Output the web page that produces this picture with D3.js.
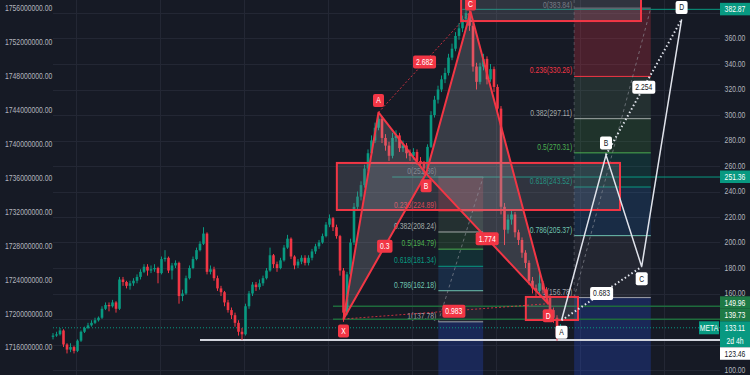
<!DOCTYPE html>
<html><head><meta charset="utf-8">
<script src="https://cdn.jsdelivr.net/npm/d3@7/dist/d3.min.js"></script>
<style>
html,body{margin:0;padding:0;background:#161a25;overflow:hidden}
svg{display:block;font-family:"Liberation Sans",Arial,sans-serif}
</style></head><body>
<svg id="chart" width="750" height="375"></svg>
<script>
// candle series (price on right axis), open of each bar = previous close
const firstOpen = 126
const closes = [127,128,131,120,116,118,115,123,130,133,
  135,137,139,141,148,151,150,153,148,171,
  169,166,168,170,173,177,181,178,179,180,
  176,187,188,178,182,184,158,160,172,180,
  187,194,199,207,177,179,172,164,161,153,
  147,143,137,130,128,150,160,167,165,168,
  172,178,190,183,180,186,196,203,189,182,
  185,188,184,188,193,197,200,205,214,219,
  212,205,178,145,175,200,228,236,245,258,
  270,280,290,297,282,276,268,282,284,274,
  276,270,268,271,264,262,258,275,300,312,
  320,328,333,345,352,362,368,375,380,370,
  338,326,338,344,328,336,322,305,228,210,
  218,222,208,202,192,184,170,164,162,168,
  163,157,147,141,127,133.11]
const highs = [129,130,133,132,121,121,119,124,131,134,
  137,139,141,142,150,153,153,155,154,173,
  173,170,170,172,175,179,183,183,182,183,
  181,189,194,189,184,186,185,163,174,182,
  189,196,201,212,208,182,181,174,166,162,
  155,149,145,139,133,152,162,169,169,171,
  174,180,196,191,185,188,198,206,204,190,
  187,190,190,190,195,199,202,207,216,222,
  220,214,206,180,177,203,231,240,248,261,
  273,284,294,302,299,285,279,286,288,286,
  280,278,273,274,273,267,264,277,303,315,
  323,331,337,348,356,365,372,378,383.84,382,
  372,341,341,348,346,340,338,324,307,231,
  222,226,224,210,204,194,186,173,167,176,
  170,165,159,149,143,136]
const lows = [124,126,127,118,113,114,113,114,122,129,
  132,134,136,138,140,147,146,149,145,147,
  166,164,163,166,168,171,176,174,176,177,
  168,175,185,176,171,180,152,154,159,171,
  179,186,193,198,175,175,170,162,158,150,
  145,140,134,127,123.46,127,148,158,162,163,
  166,171,177,180,177,179,185,195,187,179,
  180,183,182,182,186,191,195,199,204,212,
  209,203,174,137.78,143,173,198,225,233,243,
  256,267,278,288,278,272,264,266,279,271,
  271,266,264,265,261,259,253,256,274,298,
  309,318,325,331,343,350,359,365,372,366,
  334,320,324,335,324,326,318,300,222,198,
  207,214,204,198,188,180,167,160,158,160,
  160,153,144,137,123,125]

// axes
const priceTicks = [100,120,140,160,180,200,220,240,260,280,300,320,340,360,380]
const priceTickLabels = [100,160,180,200,220,240,260,280,300,320,340,360]
const leftTicks = [1716e6,1720e6,1724e6,1728e6,1732e6,1736e6,1740e6,1744e6,1748e6,1752e6,1756e6]
const timeGridBars = [6.6,30.6,54.6,78.6,102.6,126.6,150.6,174.6]

// XABCD harmonic pattern (red)
const patternNames = ['X','A','B','C','D']
const patternBars = [83,93,106.6,119.3,141.5]
const patternPrices = [140,302,254,381,152]
const patternRatios = [['X','B','0.3'],['A','C','2.682'],['B','D','1.774'],['X','D','0.983']]

// projected ABCD (white)
const projNames = ['A','B','C','D']
const projBars = [145.3,158,168.2,179.6]
const projPrices = [139,268.6,181,375]
const projRatios = [['A','C','0.683'],['B','D','2.254']]

// zones [bar from, bar to, price top, price bottom]
const zones = [[81.1,162,262.4,225.5],[116.6,168,392,373.7],[135.1,150,157.3,139.2]]

// fib retracements
const fibLevels = [0,0.236,0.382,0.5,0.618,0.786,1]
const fib1Prices = [251.36,224.89,208.24,194.79,181.34,162.18,137.78]
const fib1Bars = [110.1,122.9]
const fib2Prices = [383.84,330.26,297.11,270.31,243.52,205.37,156.78]
const fib2Bars = [148.9,170.8]

// horizontal price lines [price, start bar]
const hLinePrices = [382.87,251.36,149.96,139.73,133.11,123.46]
const hLineStarts = [116.9,96.9,80,80,0,42]
const lastPrice = 133.11

const W = 750, H = 375
const svg = d3.select('#chart')
const x = d3.scaleLinear().domain([0,190]).range([53,718])
const y = d3.scaleLinear().domain([100,380]).range([370,13])
const yLeft = d3.scaleLinear().domain([1716e6,1756e6]).range([347.5,8.3])
const plotRight = 720
const K = 0.8

function squeeze(t){
  const w = t.node().getComputedTextLength()
  t.attr('textLength', w*K).attr('lengthAdjust','spacingAndGlyphs')
  return w*K
}
function tag(g, cx, cy, text, fill, color, minW){
  const grp = g.append('g')
  const r = grp.append('rect')
  const t = grp.append('text').attr('x',cx).attr('y',cy).attr('dy','0.35em')
    .attr('text-anchor','middle').attr('fill',color).attr('font-size',8.5).text(text)
  const w = Math.max(minW||10, squeeze(t)+6)
  r.attr('x',cx-w/2).attr('y',cy-6.5).attr('width',w).attr('height',13).attr('rx',2).attr('fill',fill)
}

svg.append('rect').attr('width',W).attr('height',H).attr('fill','#161a25')

// grid
const grid = svg.append('g').attr('stroke','#232734').attr('stroke-width',1)
grid.selectAll('line.h').data(priceTicks).join('line')
  .attr('x1',53).attr('x2',plotRight).attr('y1',d=>Math.round(y(d))+0.5).attr('y2',d=>Math.round(y(d))+0.5)
grid.selectAll('line.v').data(timeGridBars).join('line')
  .attr('x1',d=>Math.round(x(d))+0.5).attr('x2',d=>Math.round(x(d))+0.5).attr('y1',0).attr('y2',H)

// fib retracements
const bandFills = ['rgba(242,54,69,0.24)','rgba(129,199,132,0.13)','rgba(76,175,80,0.17)','rgba(8,153,129,0.17)','rgba(41,120,200,0.2)','rgba(120,123,134,0.13)','rgba(41,78,220,0.28)']
const levelColors = ['#787b86','#f23645','#a3aaa8','#4caf50','#089981','#6fc3b0','#a0a3ab']
function drawFib(prices, bars, withAxis){
  const g = svg.append('g')
  const x0 = x(bars[0]), x1 = x(bars[1])
  prices.forEach((p,i)=>{
    const yTop = y(p), yBot = i < prices.length-1 ? y(prices[i+1]) : H
    g.append('rect').attr('x',x0).attr('width',x1-x0).attr('y',yTop).attr('height',yBot-yTop).attr('fill',bandFills[i])
  })
  prices.forEach((p,i)=>{
    g.append('line').attr('x1',x0).attr('x2',x1).attr('y1',y(p)).attr('y2',y(p))
      .attr('stroke',levelColors[i]).attr('stroke-width',1)
    const t = g.append('text').attr('x',x0-2).attr('y',Math.max(8,y(p)-3)).attr('text-anchor','end')
      .attr('font-size',8.5).attr('fill',levelColors[i]).text(`${fibLevels[i]}(${p.toFixed(2)})`)
    squeeze(t)
  })
  g.append('line').attr('x1',x0).attr('y1',y(prices[6])).attr('x2',x1).attr('y2',y(prices[0]))
    .attr('stroke','#9598a1').attr('stroke-dasharray','3,3').attr('opacity',0.6)
  if (withAxis)
    g.append('line').attr('x1',x0).attr('x2',x0).attr('y1',0).attr('y2',y(prices[6]))
      .attr('stroke','#787b86').attr('stroke-dasharray','3,3').attr('opacity',0.5)
}
drawFib(fib1Prices, fib1Bars, false)
drawFib(fib2Prices, fib2Bars, true)

// horizontal lines
const hStyles = [
  {c:'#089981',w:1},{c:'#089981',w:1},{c:'#1e6b3c',w:1.5},{c:'#1e6b3c',w:1.5},{c:'#089981',w:1,dash:'1,2'},{c:'#d1d4dc',w:2}
]
hLinePrices.forEach((p,i)=>{
  const s = hStyles[i]
  svg.append('line').attr('x1',x(hLineStarts[i])).attr('x2',plotRight).attr('y1',y(p)).attr('y2',y(p))
    .attr('stroke',s.c).attr('stroke-width',s.w).attr('stroke-dasharray',s.dash||null)
})

// candles
const opens = closes.map((c,i)=> i===0 ? firstOpen : closes[i-1])
const candles = svg.append('g')
closes.forEach((c,i)=>{
  const o = opens[i], col = c >= o ? '#089981' : '#f23645'
  candles.append('line').attr('x1',x(i)).attr('x2',x(i)).attr('y1',y(highs[i])).attr('y2',y(lows[i]))
    .attr('stroke',col).attr('stroke-width',1)
  const top = y(Math.max(o,c)), bot = y(Math.min(o,c))
  candles.append('rect').attr('x',x(i)-1.3).attr('width',2.6).attr('y',top).attr('height',Math.max(1,bot-top)).attr('fill',col)
})

// zones
zones.forEach(z=>{
  svg.append('rect').attr('x',x(z[0])).attr('width',x(z[1])-x(z[0])).attr('y',y(z[2])).attr('height',y(z[3])-y(z[2]))
    .attr('fill','rgba(120,123,134,0.28)').attr('stroke','#f23645').attr('stroke-width',2)
})

// XABCD pattern
const P = {}
patternNames.forEach((n,i)=>P[n]=[x(patternBars[i]),y(patternPrices[i])])
const pat = svg.append('g')
const tri = pts => 'M'+pts.map(n=>P[n].join(',')).join('L')+'Z'
pat.append('path').attr('d',tri(['X','A','B'])).attr('fill','rgba(178,181,190,0.22)').attr('stroke','#f23645').attr('stroke-width',2).attr('stroke-linejoin','round')
pat.append('path').attr('d',tri(['B','C','D'])).attr('fill','rgba(178,181,190,0.22)').attr('stroke','#f23645').attr('stroke-width',2).attr('stroke-linejoin','round')
patternRatios.forEach(([a,b])=>{
  if ((a==='A'&&b==='C')||(a==='X'&&b==='D'))
    pat.append('line').attr('x1',P[a][0]).attr('y1',P[a][1]).attr('x2',P[b][0]).attr('y2',P[b][1])
      .attr('stroke','#f23645').attr('stroke-width',1).attr('stroke-dasharray','2,2').attr('opacity',0.8)
})
// the X-D ratio tag sits a little right of the leg's midpoint
const ratioShift = {XD: 8}
patternRatios.forEach(([a,b,t])=>{
  tag(pat,(P[a][0]+P[b][0])/2+(ratioShift[a+b]||0),(P[a][1]+P[b][1])/2,t,'#f23645','#ffffff')
})
const side = {X:1,A:-1,B:1,C:-1,D:1}
patternNames.forEach(n=>tag(pat,P[n][0],Math.max(4,P[n][1]+side[n]*12),n,'#f23645','#ffffff',11))

// projected pattern
const Q = {}
projNames.forEach((n,i)=>Q[n]=[x(projBars[i]),y(projPrices[i])])
const proj = svg.append('g')
proj.append('path').attr('d','M'+projNames.map(n=>Q[n].join(',')).join('L')).attr('fill','none')
  .attr('stroke','#e0e3eb').attr('stroke-width',1.5)
projRatios.forEach(([a,b])=>{
  proj.append('line').attr('x1',Q[a][0]).attr('y1',Q[a][1]).attr('x2',Q[b][0]).attr('y2',Q[b][1])
    .attr('stroke','#e0e3eb').attr('stroke-width',2).attr('stroke-dasharray','1.5,2.5')
})
projRatios.forEach(([a,b,t])=>tag(proj,(Q[a][0]+Q[b][0])/2,(Q[a][1]+Q[b][1])/2,t,'#ffffff','#131722'))
const pside = {A:1,B:-1,C:1,D:-1}
projNames.forEach(n=>tag(proj,Q[n][0],Q[n][1]+pside[n]*12,n,'#ffffff','#131722',12))

// left axis
const la = svg.append('g')
leftTicks.forEach(v=>{
  const t = la.append('text').attr('x',5).attr('y',yLeft(v)).attr('dy','0.35em').attr('font-size',8.5)
    .attr('fill','#b2b5be').text(v.toFixed(2))
  squeeze(t)
})

// right axis
const ra = svg.append('g')
priceTickLabels.forEach(v=>{
  const t = ra.append('text').attr('x',735).attr('y',y(v)).attr('dy','0.35em').attr('text-anchor','middle')
    .attr('font-size',8.5).attr('fill','#b2b5be').text(v.toFixed(2))
  squeeze(t)
})

// price labels on the right axis, pushed apart around the last price
const labelFills = ['#089981','#089981','#1e7a45','#1e7a45','#089981','#ffffff']
const labelText = ['#ffffff','#ffffff','#ffffff','#ffffff','#ffffff','#131722']
const items = hLinePrices.map((p,i)=>({p, h: p===lastPrice?26:12.5, top: y(p)-6.5, i}))
const ai = items.findIndex(d=>d.p===lastPrice)
for (let i=ai-1;i>=0;i--){ const lim = items[i+1].top-items[i].h; if (items[i].top>lim) items[i].top=lim }
for (let i=ai+1;i<items.length;i++){ const lim = items[i-1].top+items[i-1].h; if (items[i].top<lim) items[i].top=lim }
items.forEach(d=>{
  ra.append('rect').attr('x',720).attr('y',d.top).attr('width',30).attr('height',d.h).attr('fill',labelFills[d.i])
  const t = ra.append('text').attr('x',735).attr('y',d.top+6.25).attr('dy','0.35em').attr('text-anchor','middle')
    .attr('font-size',8.5).attr('fill',labelText[d.i]).text(d.p.toFixed(2))
  squeeze(t)
  if (d.p===lastPrice){
    const t2 = ra.append('text').attr('x',735).attr('y',d.top+19.5).attr('dy','0.35em').attr('text-anchor','middle')
      .attr('font-size',8.5).attr('fill','#ffffff').text('2d 4h')
    squeeze(t2)
    ra.append('rect').attr('x',699).attr('y',d.top).attr('width',20).attr('height',13).attr('fill','#089981')
    const t3 = ra.append('text').attr('x',709).attr('y',d.top+6.5).attr('dy','0.35em').attr('text-anchor','middle')
      .attr('font-size',8.5).attr('fill','#ffffff').text('META')
    squeeze(t3)
  }
})
</script>
</body></html>
